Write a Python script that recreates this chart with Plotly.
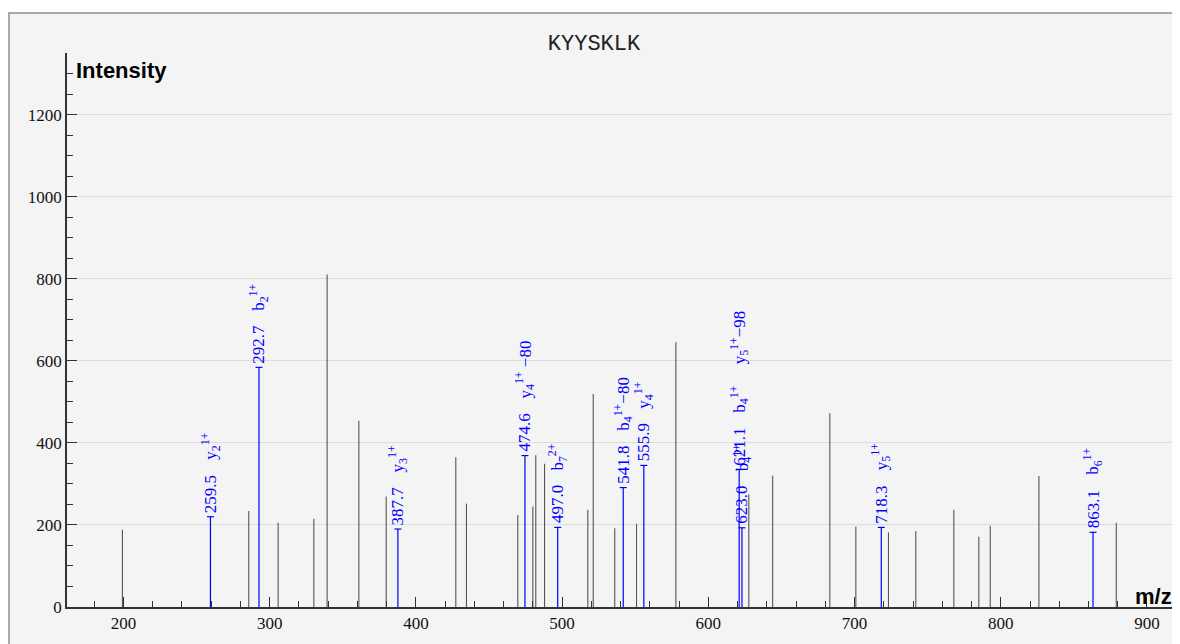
import plotly.graph_objects as go

# ---- data ----
title_text = "KYYSKLK"

other_mz = [199.3, 285.7, 305.8, 330.2, 339.3, 361.0, 379.7, 427.3, 434.6, 469.7,
            480.0, 482.0, 488.0, 517.6, 521.3, 536.0, 550.9, 577.8, 627.7, 644.0,
            683.1, 700.9, 723.2, 741.9, 767.9, 785.0, 792.8, 826.1, 879.0]
other_int = [188, 234, 205, 215, 810, 454, 269, 365, 252, 224,
             245, 370, 349, 237, 519, 192, 203, 645, 275, 320,
             472, 196, 182, 185, 237, 171, 198, 319, 205]

matched_mz = [259.5, 292.7, 387.7, 474.6, 497.0, 541.8, 555.9, 621.1, 623.0, 718.3, 863.1]
matched_int = [220, 584, 190, 369, 194, 291, 345, 335, 193, 194, 182]
matched_ion = [
    "y<sub>2</sub><sup>1+</sup>",
    "b<sub>2</sub><sup>1+</sup>",
    "y<sub>3</sub><sup>1+</sup>",
    "y<sub>4</sub><sup>1+</sup> \u221280",
    "b<sub>7</sub><sup>2+</sup>",
    "b<sub>4</sub><sup>1+</sup>\u221280",
    "y<sub>4</sub><sup>1+</sup>",
    "b<sub>4</sub><sup>1+</sup>\u00a0\u00a0\u00a0\u00a0\u00a0y<sub>5</sub><sup>1+</sup>\u221298",
    "b<sub>4</sub><sup>1+</sup>",
    "y<sub>5</sub><sup>1+</sup>",
    "b<sub>6</sub><sup>1+</sup>",
]

x_range = [161.4, 917.8]
y_range = [0, 1350]

# ---- figure geometry (page body has an 8px margin) ----
OFF = 8
W, H = 1180 - OFF, 644 - OFF
PLOT_L, PLOT_R, PLOT_T, PLOT_B = 67, 1173, 53, 607   # screen pixels
ML, MR, MT, MB = PLOT_L - OFF, (W + OFF) - PLOT_R, PLOT_T - OFF, (H + OFF) - PLOT_B
PW, PH = W - ML - MR, H - MT - MB


def px_x(p):
    return (p - PLOT_L) / PW


def px_y(p):
    return (PLOT_B - p) / PH


def stems(xs, ys):
    sx, sy = [], []
    for a, b in zip(xs, ys):
        sx += [a, a, None]
        sy += [0, b, None]
    return sx, sy


fig = go.Figure()

ox, oy = stems(other_mz, other_int)
fig.add_trace(go.Scatter(x=ox, y=oy, mode="lines",
                         line=dict(color="#555555", width=1.1),
                         hoverinfo="skip", showlegend=False))

mx, my = stems(matched_mz, matched_int)
fig.add_trace(go.Scatter(x=mx, y=my, mode="lines",
                         line=dict(color="#0000ff", width=1.2),
                         hoverinfo="skip", showlegend=False))
fig.add_trace(go.Scatter(x=matched_mz, y=matched_int, mode="markers",
                         marker=dict(symbol="line-ew", size=5,
                                     line=dict(color="#0000ff", width=1.2)),
                         hoverinfo="skip", showlegend=False))

label_font = dict(family="Liberation Serif, Times New Roman, serif", size=17, color="#0000ff")
for mz, inten, ion in zip(matched_mz, matched_int, matched_ion):
    fig.add_annotation(x=mz, y=inten, text=f"{mz:.1f}", textangle=-90,
                       showarrow=False, xanchor="center", yanchor="bottom",
                       yshift=3, borderpad=0, font=label_font)
    fig.add_annotation(x=mz, y=inten, text=ion, textangle=-90,
                       showarrow=False, xanchor="center", yanchor="bottom",
                       yshift=56, borderpad=0, font=label_font)

# axis captions
fig.add_annotation(xref="paper", yref="paper", x=px_x(74), y=px_y(70),
                   text="<b>Intensity</b>", showarrow=False,
                   xanchor="left", yanchor="middle",
                   font=dict(family="Liberation Sans, Arial, sans-serif", size=22, color="#000"))
fig.add_annotation(xref="paper", yref="paper", x=px_x(1174), y=px_y(596),
                   text="<b>m/z</b>", showarrow=False,
                   xanchor="right", yanchor="middle",
                   font=dict(family="Liberation Sans, Arial, sans-serif", size=22, color="#000"))

# page panel with border
fig.add_shape(type="rect", xref="paper", yref="paper", layer="below",
              x0=px_x(9), x1=px_x(1178.5), y0=px_y(720), y1=px_y(13),
              line=dict(color="#aaaaaa", width=2), fillcolor="#f4f4f4")

tick_font = dict(family="Liberation Serif, Times New Roman, serif", size=17, color="#111")
fig.update_xaxes(range=x_range, showline=True, linecolor="#333", linewidth=1.5,
                 showgrid=False, zeroline=False,
                 ticks="inside", ticklen=10, tickcolor="#333", tickwidth=1.3,
                 dtick=100, tick0=0, tickfont=tick_font,
                 minor=dict(ticks="inside", ticklen=6, dtick=20, tick0=0,
                            tickcolor="#333", tickwidth=1.2, showgrid=False))
fig.update_yaxes(range=y_range, showline=True, linecolor="#333", linewidth=1.5,
                 showgrid=True, gridcolor="#dcdcdc", gridwidth=1, zeroline=False,
                 ticks="inside", ticklen=10, tickcolor="#333", tickwidth=1.3,
                 dtick=200, tick0=0, tickfont=tick_font,
                 minor=dict(ticks="inside", ticklen=6, dtick=50, tick0=0,
                            tickcolor="#333", tickwidth=1.2, showgrid=False))

fig.update_layout(
    width=W, height=H,
    margin=dict(l=ML, r=MR, t=MT, b=MB),
    paper_bgcolor="#ffffff",
    plot_bgcolor="rgba(0,0,0,0)",
    title=dict(text=title_text, x=0.5, xanchor="center",
               y=1 - (42 - OFF) / H, yanchor="middle", yref="container",
               font=dict(family="Liberation Mono, Courier New, monospace", size=22, color="#222")),
    showlegend=False,
)

fig.write_html("out.html")
